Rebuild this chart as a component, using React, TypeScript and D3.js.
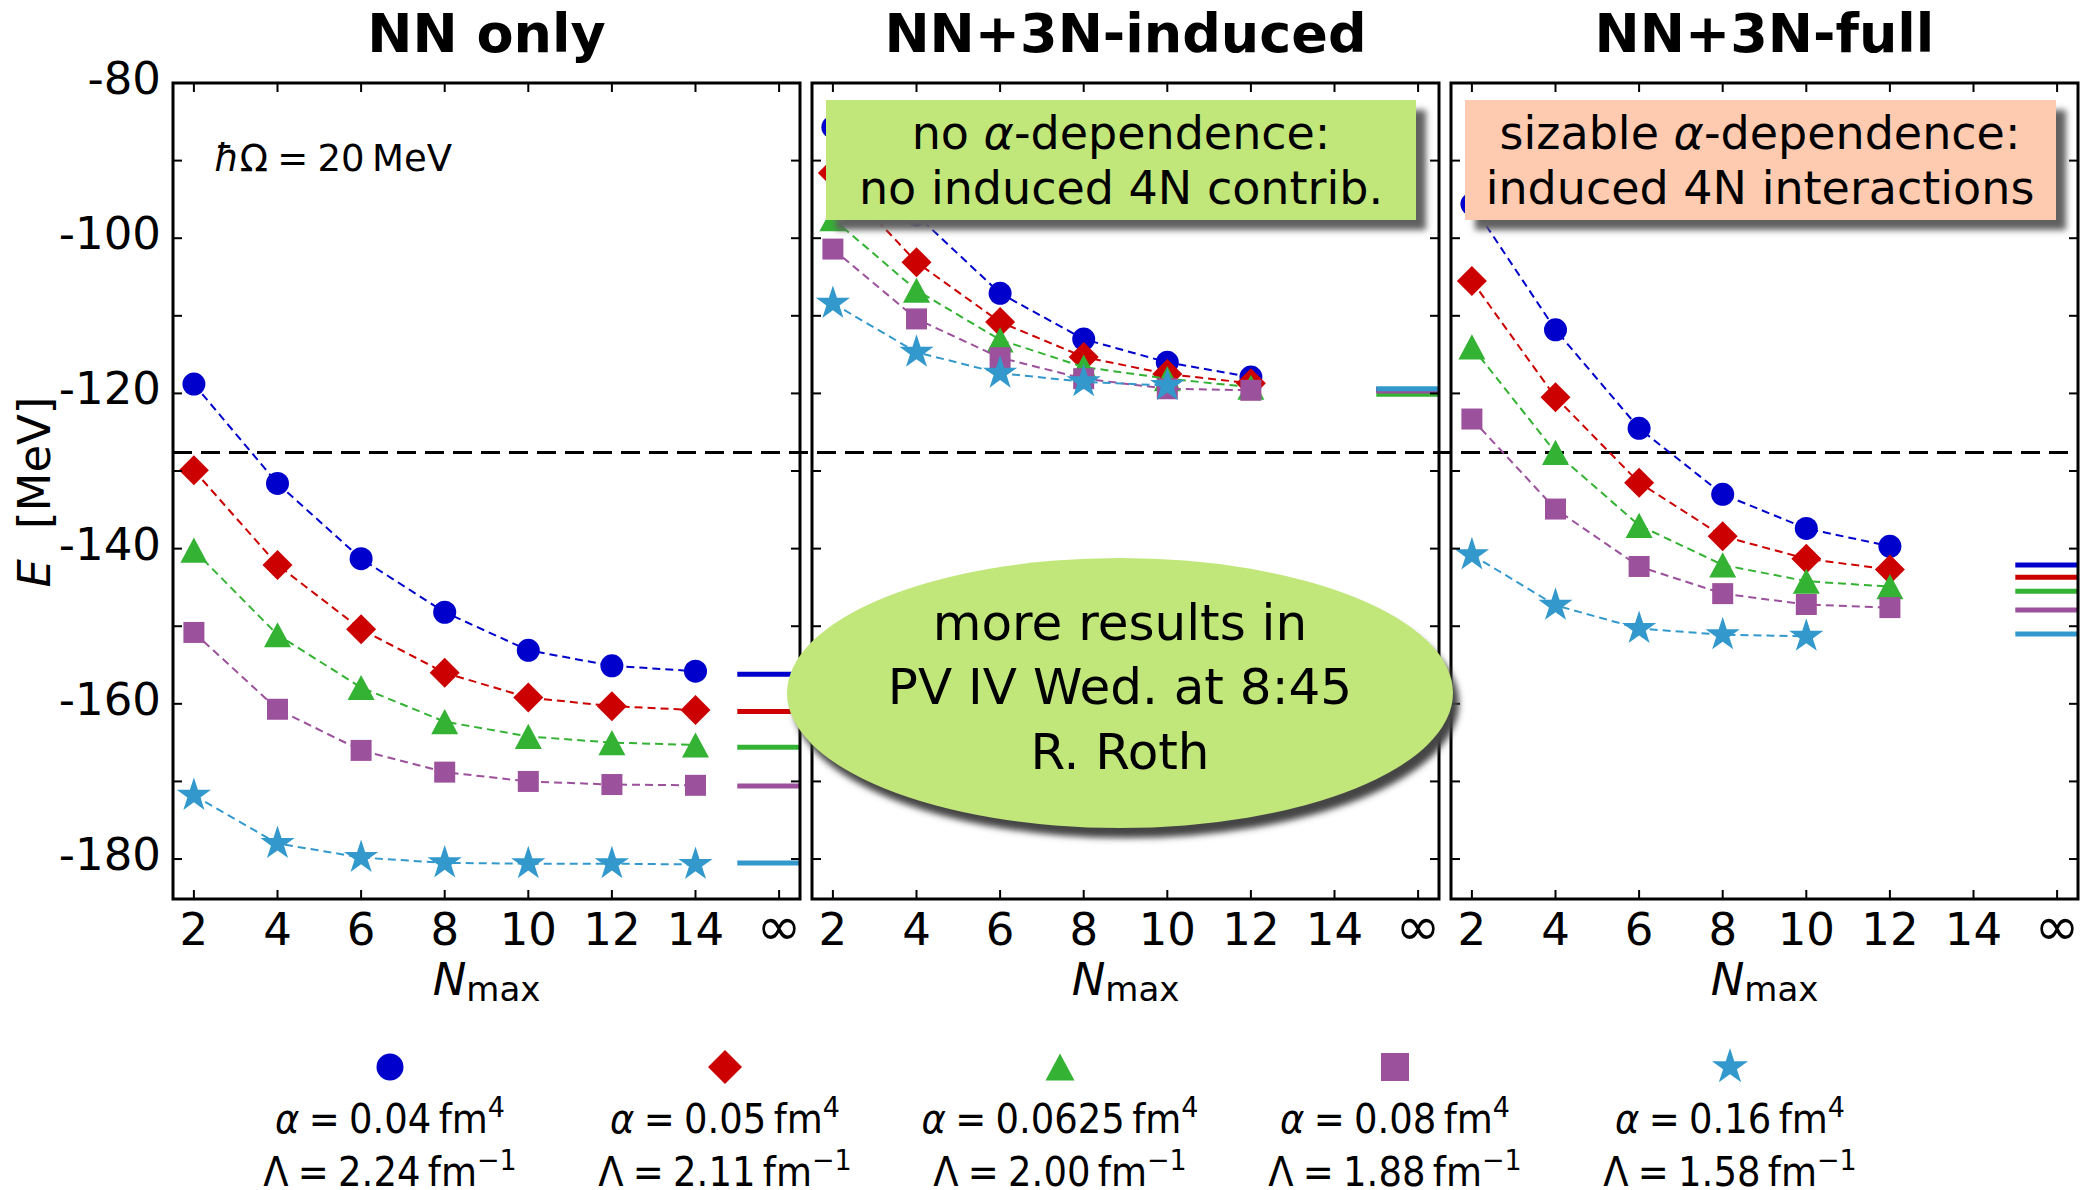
import React from "react";
import * as d3 from "d3";

const W = 2098;
const H = 1190;

const panelTitles = ["NN only", "NN+3N-induced", "NN+3N-full"];

// N_max values (infinity sits at 16 on the axis)
const nmaxNN = [2, 4, 6, 8, 10, 12, 14];
const nmax3N = [2, 4, 6, 8, 10, 12];
const nmax3NStar = [2, 4, 6, 8, 10];
const xTicks = [2, 4, 6, 8, 10, 12, 14, 16];
const xTickLabels = ["2", "4", "6", "8", "10", "12", "14", "\u221e"];
const yTicks = [-80, -90, -100, -110, -120, -130, -140, -150, -160, -170, -180];
const yLabelTicks = [-80, -100, -120, -140, -160, -180];

// one row per alpha: 0.04, 0.05, 0.0625, 0.08, 0.16
const eNNonly = [
  [-118.8, -131.6, -141.3, -148.2, -153.1, -155.1, -155.8],
  [-129.9, -142.1, -150.4, -156.0, -159.2, -160.3, -160.8],
  [-140.2, -151.1, -157.9, -162.3, -164.2, -165.0, -165.3],
  [-150.8, -160.7, -166.0, -168.8, -170.0, -170.4, -170.5],
  [-171.8, -178.0, -179.8, -180.5, -180.6, -180.6, -180.7],
];
const eInduced = [
  [-85.7, -97.0, -107.1, -113.0, -116.0, -117.9],
  [-91.6, -103.1, -110.8, -115.3, -117.5, -118.7],
  [-97.5, -106.7, -113.1, -116.6, -118.1, -119.2],
  [-101.4, -110.4, -115.4, -118.1, -119.4, -119.6],
  [-108.4, -114.7, -117.4, -118.5, -119.0],
];
const eFull = [
  [-95.6, -111.8, -124.5, -133.0, -137.4, -139.7],
  [-105.5, -120.5, -131.5, -138.4, -141.3, -142.7],
  [-114.0, -127.6, -137.0, -142.1, -144.2, -144.9],
  [-123.3, -134.9, -142.3, -145.8, -147.2, -147.6],
  [-140.8, -147.3, -150.3, -151.1, -151.3],
];
// extrapolated values (drawn at infinity)
const eInfNNonly = [-156.2, -161.0, -165.6, -170.6, -180.5];
const eInfInduced = [-119.5, -119.5, -120.1, -119.7, -119.4];
const eInfFull = [-142.1, -143.7, -145.5, -147.9, -151.0];
const eExp = -127.6;

const colors = ["#0000cc", "#cc0000", "#33b233", "#9b519b", "#3399cc"];
const markerKinds = ["circle", "diamond", "triangle", "square", "star"];
const alphaLabels = ["0.04", "0.05", "0.0625", "0.08", "0.16"];
const lambdaLabels = ["2.24", "2.11", "2.00", "1.88", "1.58"];

const plotSize = { circle: 11.5, diamond: 15, triangle: 27, square: 21, star: 18 };
const legendSize = { circle: 13.5, diamond: 17, triangle: 29, square: 28, star: 19 };

function markerPath(kind, s) {
  if (kind === "circle") return d3.symbol(d3.symbolCircle, Math.PI * s * s)();
  if (kind === "star") return d3.symbol(d3.symbolStar, (s * s) / 0.8908130915292852)();
  if (kind === "square") return d3.symbol(d3.symbolSquare, s * s)();
  if (kind === "diamond") return `M0,${-s}L${s},0L0,${s}L${-s},0Z`;
  // triangle, bbox centred
  const h = s * 0.93;
  return `M0,${-h / 2}L${s / 2},${h / 2}L${-s / 2},${h / 2}Z`;
}

const top = 83;
const bottom = 899;
const pw = 627;
const lefts = [173, 812, 1451];
const font = "DejaVu Sans";
const sp = "\u2005";

export default function App() {
  const y = d3.scaleLinear().domain([-185.15, -80]).range([bottom, top]);

  const panels = [
    { data: eNNonly, inf: eInfNNonly, n: [nmaxNN, nmaxNN] },
    { data: eInduced, inf: eInfInduced, n: [nmax3N, nmax3NStar] },
    { data: eFull, inf: eInfFull, n: [nmax3N, nmax3NStar] },
  ];

  const legendX = d3.scalePoint().domain(alphaLabels).range([390, 1730]);

  return (
    <svg
      width={W}
      height={H}
      style={{ position: "absolute", left: 0, top: 0 }}
      fontFamily={font}
    >
      <defs>
        <filter id="soft" x="-20%" y="-20%" width="140%" height="140%">
          <feGaussianBlur stdDeviation="3" />
        </filter>
      </defs>
      <rect width={W} height={H} fill="#fff" />

      {/* experimental value */}
      <line
        x1={lefts[0]}
        x2={lefts[2] + pw}
        y1={y(eExp)}
        y2={y(eExp)}
        stroke="#000"
        strokeWidth={3}
        strokeDasharray="19,9"
      />

      {panels.map((p, pi) => {
        const left = lefts[pi];
        const x = d3.scaleLinear().domain([1.5, 16.5]).range([left, left + pw]);
        const line = d3
          .line()
          .x((d) => x(d[0]))
          .y((d) => y(d[1]));
        return (
          <g key={pi}>
            <text
              x={left + pw / 2}
              y={52}
              textAnchor="middle"
              fontSize={54}
              fontWeight="bold"
            >
              {panelTitles[pi]}
            </text>

            {p.data.map((row, si) => {
              const ns = si === 4 ? p.n[1] : p.n[0];
              const pts = row.map((v, i) => [ns[i], v]);
              return (
                <g key={si}>
                  <path
                    d={line(pts)}
                    fill="none"
                    stroke={colors[si]}
                    strokeWidth={2}
                    strokeDasharray="8,5"
                  />
                  {pts.map((d, i) => (
                    <path
                      key={i}
                      d={markerPath(markerKinds[si], plotSize[markerKinds[si]])}
                      transform={`translate(${x(d[0])},${y(d[1])})`}
                      fill={colors[si]}
                    />
                  ))}
                </g>
              );
            })}

            {p.inf.map((v, si) => (
              <line
                key={si}
                x1={x(15)}
                x2={x(16.5)}
                y1={y(v)}
                y2={y(v)}
                stroke={colors[si]}
                strokeWidth={5}
              />
            ))}

            {/* frame and ticks */}
            <rect
              x={left}
              y={top}
              width={pw}
              height={bottom - top}
              fill="none"
              stroke="#000"
              strokeWidth={3}
            />
            {xTicks.map((t) => (
              <g key={t}>
                <line x1={x(t)} x2={x(t)} y1={bottom} y2={bottom - 9} stroke="#000" strokeWidth={2} />
                <line x1={x(t)} x2={x(t)} y1={top} y2={top + 9} stroke="#000" strokeWidth={2} />
              </g>
            ))}
            {yTicks.map((t) => (
              <g key={t}>
                <line x1={left} x2={left + 9} y1={y(t)} y2={y(t)} stroke="#000" strokeWidth={2} />
                <line x1={left + pw} x2={left + pw - 9} y1={y(t)} y2={y(t)} stroke="#000" strokeWidth={2} />
              </g>
            ))}
            {xTicks.map((t, i) => (
              <text
                key={t}
                x={x(t)}
                y={945}
                textAnchor="middle"
                fontSize={i === 7 ? 54 : 45}
              >
                {xTickLabels[i]}
              </text>
            ))}
            <text x={left + pw / 2} y={995} textAnchor="middle" fontSize={45}>
              <tspan fontStyle="italic">N</tspan>
              <tspan fontSize={34} dy={6}>max</tspan>
            </text>
          </g>
        );
      })}

      {yLabelTicks.map((t) => (
        <text key={t} x={161} y={y(t) + 11} textAnchor="end" fontSize={45}>
          {String(t)}
        </text>
      ))}
      <text transform="translate(50,492) rotate(-90)" textAnchor="middle" fontSize={45}>
        <tspan fontStyle="italic">E</tspan>
        <tspan dx={30}>[MeV]</tspan>
      </text>
      <text x={214} y={171} fontSize={37}>
        <tspan fontStyle="italic">ħ</tspan>Ω{sp}={sp}20{"\u2009"}MeV
      </text>

      {/* annotation boxes */}
      <rect x={836} y={110} width={590} height={120} fill="#606060" filter="url(#soft)" />
      <rect x={826} y={100} width={590} height={120} fill="#c1e67a" />
      <text x={1121} y={149} textAnchor="middle" fontSize={46}>
        no <tspan fontStyle="italic">α</tspan>-dependence:
      </text>
      <text x={1121} y={204} textAnchor="middle" fontSize={46}>
        no induced 4N contrib.
      </text>

      <rect x={1475} y={110} width={591} height={120} fill="#606060" filter="url(#soft)" />
      <rect x={1465} y={100} width={591} height={120} fill="#fecbb0" />
      <text x={1760} y={149} textAnchor="middle" fontSize={46}>
        sizable <tspan fontStyle="italic">α</tspan>-dependence:
      </text>
      <text x={1760} y={204} textAnchor="middle" fontSize={46}>
        induced 4N interactions
      </text>

      <ellipse cx={1126} cy={703} rx={333} ry={135} fill="#444" filter="url(#soft)" />
      <ellipse cx={1120} cy={693} rx={333} ry={135} fill="#c1e67a" />
      <text x={1120} y={640} textAnchor="middle" fontSize={50}>more results in</text>
      <text x={1120} y={704} textAnchor="middle" fontSize={50}>PV IV Wed. at 8:45</text>
      <text x={1120} y={769} textAnchor="middle" fontSize={50}>R. Roth</text>

      {/* legend */}
      {alphaLabels.map((a, i) => {
        const lx = legendX(a);
        const k = markerKinds[i];
        return (
          <g key={a}>
            <path
              d={markerPath(k, legendSize[k])}
              transform={`translate(${lx},1067)`}
              fill={colors[i]}
            />
            <g transform={`translate(${lx},1133) scale(1,1.08)`}>
              <text x={0} y={0} textAnchor="middle" fontSize={37}>
                <tspan fontStyle="italic">α</tspan>{sp}={sp}{a}{"\u2009"}fm
                <tspan fontSize={27} dy={-15}>4</tspan>
              </text>
            </g>
            <g transform={`translate(${lx},1186) scale(1,1.08)`}>
              <text x={0} y={0} textAnchor="middle" fontSize={37}>
                Λ{sp}={sp}{lambdaLabels[i]}{"\u2009"}fm
                <tspan fontSize={27} dy={-15}>{"\u22121"}</tspan>
              </text>
            </g>
          </g>
        );
      })}
    </svg>
  );
}
